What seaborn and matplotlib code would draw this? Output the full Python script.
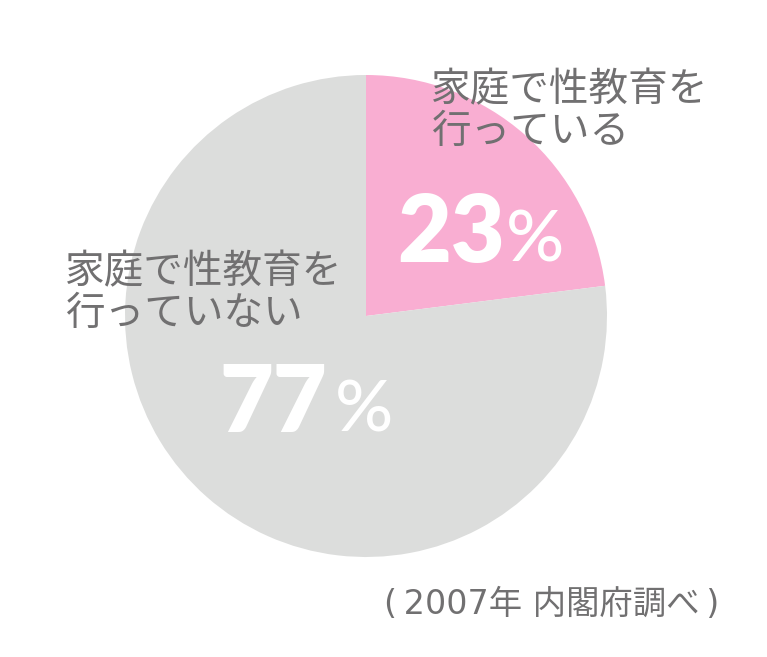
import matplotlib
matplotlib.use("Agg")
import matplotlib.pyplot as plt
import seaborn as sns

sns.set_theme(style="white")
plt.rcParams['font.family'] = ['Noto Sans CJK JP', 'DejaVu Sans']

labels = ["家庭で性教育を\n行っている", "家庭で性教育を\n行っていない"]
values = [23, 77]
value_texts = ["23", "77"]
colors = ["#F9AED2", "#DCDDDC"]
source = "(\u20092007年 内閣府調べ\u2009)"

W, H = 767, 657
fig = plt.figure(figsize=(W / 100, H / 100), dpi=100)
fig.patch.set_facecolor("white")

cx, cy, r = 366, 316, 241
ax = fig.add_axes([(cx - r) / W, 1 - (cy + r) / H, 2 * r / W, 2 * r / H])
ax.pie(values, colors=colors, startangle=90, counterclock=False,
       radius=1, wedgeprops=dict(linewidth=0))
ax.set_xlim(-1, 1)
ax.set_ylim(-1, 1)
ax.set_aspect("equal")
ax.axis("off")

def fx(x):
    return x / W

def fy(y):
    return 1 - y / H

gray = "#717071"
# category labels
fig.text(fx(431), fy(111), labels[0], ha="left", va="center", fontsize=28.5,
         color=gray, linespacing=1.06)
fig.text(fx(65), fy(293), labels[1], ha="left", va="center", fontsize=28.5,
         color=gray, linespacing=1.06)

# big value labels
num_font = dict(family=["Lato", "DejaVu Sans"], color="white")
fig.text(fx(397), fy(262), value_texts[0], ha="left", va="baseline",
         fontsize=67, fontweight="heavy", **num_font)
fig.text(fx(506), fy(262), "%", ha="left", va="baseline",
         fontsize=52, fontweight="medium", **num_font)
fig.text(fx(219), fy(432), value_texts[1], ha="left", va="baseline",
         fontsize=67, fontweight="heavy", **num_font)
fig.text(fx(335), fy(432), "%", ha="left", va="baseline",
         fontsize=52, fontweight="medium", **num_font)

fig.text(fx(384), fy(604), source, ha="left", va="center", fontsize=24,
         color=gray, family=["DejaVu Sans", "Noto Sans CJK JP"])

fig.savefig("out.png", dpi=100, facecolor="white")
